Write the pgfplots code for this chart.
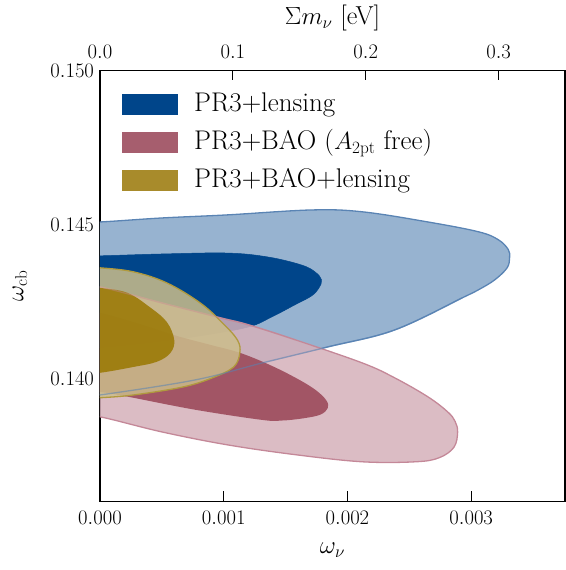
\documentclass[border=0pt]{standalone}
\usepackage{pgfplots}
\pgfplotsset{compat=1.18}
\definecolor{blueout}{HTML}{97B3D0}
\definecolor{blueedge}{HTML}{5A84B4}
\definecolor{bluein}{HTML}{00458A}
\definecolor{pinkout}{HTML}{D5B0BA}
\definecolor{pinkedge}{HTML}{C48898}
\definecolor{pinkin}{HTML}{994455}
\definecolor{yelout}{HTML}{CCBD8B}
\definecolor{yeledge}{HTML}{B09A3E}
\definecolor{yelin}{HTML}{997700}
\definecolor{blueleg}{HTML}{00458A}
\definecolor{pinkleg}{HTML}{A65E6E}
\definecolor{yelleg}{HTML}{A88B2B}
\begin{document}
\begin{tikzpicture}
\pgfplotsset{
  every tick label/.append style={font=\fontsize{22bp}{26bp}\selectfont},
  every axis label/.append style={font=\fontsize{26bp}{30bp}\selectfont},
}
\begin{axis}[name=ax, scale only axis, width=465bp, height=431bp,
  xmin=0, xmax=0.0037578, ymin=0.136, ymax=0.150,
  xtick={0,0.001,0.002,0.003}, ytick={0.140,0.145,0.150},
  scaled x ticks=false, scaled y ticks=false,
  x tick label style={/pgf/number format/.cd, fixed, fixed zerofill, precision=3, /tikz/.cd, yshift=-6bp},
  y tick label style={/pgf/number format/.cd, fixed, fixed zerofill, precision=3, /tikz/.cd, xshift=-2.5bp},
  xtick pos=left, ytick pos=left, tick align=inside,
  major tick length=10bp,
  axis line style={line width=1.6bp},
  tick style={line width=1.2bp, black},
  xlabel={$\omega_\nu$}, ylabel={$\omega_{\mathrm{cb}}$},
  xlabel style={at={(axis description cs:0.5,-0.1125)}, anchor=center},
  ylabel style={at={(axis description cs:-0.172,0.5)}, anchor=center},
  legend style={at={(axis description cs:0.047,0.965)}, anchor=north west, draw=none, fill=none,
    font=\fontsize{27bp}{32bp}\selectfont, row sep=0bp, column sep=13bp, inner sep=0pt,
    nodes={text height=19bp, text depth=6bp, inner xsep=3bp, inner ysep=6.5bp}},
  legend cell align=left,
  legend image code/.code={\fill[#1] (0bp,-10.5bp) rectangle (56bp,10.5bp);},
]
\addlegendimage{fill=blueleg, draw=none}
\addlegendentry{PR3+lensing}
\addlegendimage{fill=pinkleg, draw=none}
\addlegendentry{PR3+BAO ($A_{\mathrm{2pt}}$ free)}
\addlegendimage{fill=yelleg, draw=none}
\addlegendentry{PR3+BAO+lensing}

% PR3+lensing outer (95%)
\addplot[forget plot, smooth, tension=0.6, fill=blueout, draw=blueedge, line width=1.3bp] coordinates {
(-0.0002,0.14508) (0,0.14508) (0.00050,0.14521) (0.00103,0.14531) (0.00171,0.14547)
(0.00212,0.14541) (0.00265,0.14508) (0.00306,0.14476) (0.00322,0.14450) (0.00330,0.14418)
(0.00331,0.14392) (0.00329,0.14359) (0.00319,0.14320) (0.00306,0.14288) (0.00293,0.14262)
(0.00238,0.14157) (0.00184,0.14102) (0.00131,0.14050)
(0.00077,0.13995) (0,0.13946) (-0.0002,0.13940)} -- cycle;
% PR3+lensing inner (68%)
\addplot[forget plot, smooth, tension=0.6, fill=bluein, draw=bluein, line width=0.5bp] coordinates {
(-0.0002,0.14398) (0,0.14398) (0.00050,0.14404) (0.00103,0.14407) (0.00136,0.14394)
(0.00163,0.14368) (0.00174,0.14345) (0.00179,0.14320) (0.00177,0.14294) (0.00171,0.14268)
(0.00158,0.14240) (0.00139,0.14200) (0.00120,0.14167) (0.00081,0.14138) (0.00040,0.14115) (0,0.14099)
(-0.0002,0.14095)} -- cycle;

% PR3+BAO outer
\addplot[forget plot, smooth, tension=0.6, fill=pinkout, fill opacity=0.85, draw=pinkedge, line width=1.3bp] coordinates {
(-0.0002,0.14302) (0,0.14297) (0.00050,0.14245) (0.00097,0.14197) (0.00120,0.14174)
(0.00158,0.14125) (0.00212,0.14050) (0.00238,0.14002) (0.00265,0.13940) (0.00281,0.13891)
(0.00287,0.13860) (0.00289,0.13825) (0.00286,0.13776) (0.00274,0.13742) (0.00255,0.13729) (0.00212,0.13729)
(0.00158,0.13752) (0.00103,0.13784) (0.00050,0.13826) (0,0.13875) (-0.0002,0.13880)} -- cycle;
% PR3+BAO inner
\addplot[forget plot, smooth, tension=0.6, fill=pinkin, fill opacity=0.85, draw=none] coordinates {
(-0.0002,0.14220) (0,0.14213) (0.00032,0.14177) (0.00062,0.14138) (0.00089,0.14109)
(0.00113,0.14083) (0.00137,0.14044) (0.00158,0.14002) (0.00174,0.13963) (0.00183,0.13928)
(0.00184,0.13903) (0.00178,0.13882) (0.00164,0.13870) (0.00147,0.13863) (0.00131,0.13865)
(0.00077,0.13898) (0.00023,0.13940) (0,0.13956) (-0.0002,0.13962)} -- cycle;

% PR3+BAO+lensing outer
\addplot[forget plot, smooth, tension=0.6, fill=yelout, fill opacity=0.85, draw=yeledge, line width=1.3bp] coordinates {
(-0.0002,0.14362) (0,0.14359) (0.00027,0.14346) (0.00054,0.14310) (0.00081,0.14245)
(0.00099,0.14180) (0.00111,0.14125) (0.00113,0.14083) (0.00108,0.14037) (0.00091,0.14002)
(0.00067,0.13972) (0.00027,0.13946) (0,0.13937) (-0.0002,0.13934)} -- cycle;
% PR3+BAO+lensing inner
\addplot[forget plot, smooth, tension=0.6, fill=yelin, fill opacity=0.85, draw=none] coordinates {
(-0.0002,0.14300) (0,0.14294) (0.00022,0.14278) (0.00040,0.14232) (0.00054,0.14183)
(0.00060,0.14125) (0.00057,0.14083) (0.00046,0.14054) (0.00027,0.14037) (0,0.14018)
(-0.0002,0.14012)} -- cycle;

% outer edges faintly visible on top
\addplot[forget plot, smooth, tension=0.6, draw=blueedge, draw opacity=0.55, line width=1.3bp] coordinates {
(0.00293,0.14262) (0.00238,0.14157) (0.00184,0.14102) (0.00131,0.14050)
(0.00077,0.13995) (0,0.13946) (-0.0002,0.13940)};
\addplot[forget plot, smooth, tension=0.6, draw=pinkedge, draw opacity=0.4, line width=1.3bp] coordinates {
(-0.0002,0.14302) (0,0.14297) (0.00050,0.14245) (0.00097,0.14197) (0.00120,0.14174)
(0.00158,0.14125)};
\end{axis}
\begin{axis}[scale only axis, width=465bp, height=431bp,
  xmin=0, xmax=0.35, ymin=0, ymax=1,
  axis x line*=top, axis y line=none,
  xtick={0,0.1,0.2,0.3}, tick align=inside,
  x tick label style={/pgf/number format/.cd, fixed, fixed zerofill, precision=1, /tikz/.cd, yshift=8bp},
  major tick length=10bp,
  axis line style={line width=1.6bp},
  tick style={line width=1.2bp, black},
  xlabel={$\Sigma m_\nu$ [eV]},
  xlabel style={at={(axis description cs:0.5,1.122)}, anchor=center},
]
\end{axis}
\pgfresetboundingbox
\path[use as bounding box] ([shift={(-100bp,-68.5bp)}]ax.south west) rectangle ([shift={(1bp,70.5bp)}]ax.north east);
\end{tikzpicture}
\end{document}
